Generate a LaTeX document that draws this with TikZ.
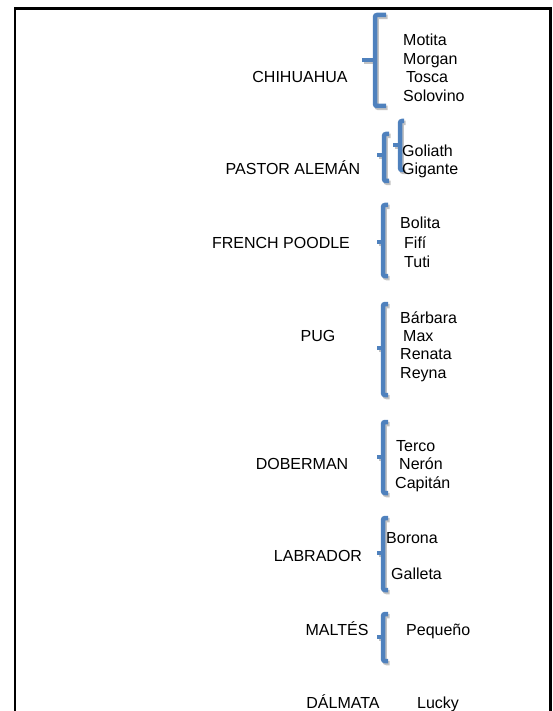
\documentclass[tikz,border=0pt]{standalone}
\usepackage{fontspec}
\setmainfont{Liberation Sans}
\definecolor{bracecol}{RGB}{79,129,189}
\definecolor{shadowcol}{RGB}{195,195,195}
\tikzset{
  txt/.style={inner sep=0pt, font=\fontsize{16}{19}\selectfont},
  breed/.style={txt, anchor=base},
  pet/.style={txt, anchor=base west},
  braceline/.style={line width=4.5pt, color=bracecol, rounded corners=2pt},
  braceshadow/.style={line width=4.5pt, color=shadowcol, rounded corners=2pt},
  frameline/.style={line width=2.5pt, black},
}
% #1 x, #2 top, #3 mid, #4 bottom, #5 tip x, #6 end x
\newcommand{\wordbrace}[6]{%
  \draw[braceshadow, shift={(1.5,2)}] (#6,#2) -- (#1,#2) -- (#1,#4) -- (#6,#4);
  \draw[braceshadow, shift={(1.5,2)}] (#5,#3) -- (#1,#3);
  \draw[braceline] (#6,#2) -- (#1,#2) -- (#1,#4) -- (#6,#4);
  \draw[braceline] (#5,#3) -- (#1,#3);
}
\begin{document}
\begin{tikzpicture}[x=1pt,y=-1pt]
\useasboundingbox (0,0) rectangle (553,711);
\begin{scope}
\clip (0,0) rectangle (553,711);
\draw[frameline] (15,712) -- (15,8.5) -- (550.5,8.5) -- (550.5,712);
\end{scope}

% braces
\wordbrace{375}{15}{60}{106}{362}{386}
\wordbrace{384}{134}{155}{181}{377}{389}
\wordbrace{400}{121}{145}{170}{393}{404}
\wordbrace{383}{205}{242}{276}{377}{388}
\wordbrace{383}{304}{348}{395}{377}{388}
\wordbrace{383}{422}{457}{493}{377}{388}
\wordbrace{383}{518}{553}{590}{377}{388}
\wordbrace{383}{614}{637}{661}{377}{388}

% breeds
\node[breed] (chi) at (300,83) {CHIHUAHUA};
\node[breed] (pas) at (293,175) {PASTOR ALEMÁN};
\node[breed] (fre) at (281,248) {FRENCH POODLE};
\node[breed] (pug) at (318,341) {PUG};
\node[breed] (dob) at (302,469) {DOBERMAN};
\node[breed] (lab) at (318,561) {LABRADOR};
\node[breed] (mal) at (337,635) {MALTÉS};
\node[breed] (dal) at (343,708) {DÁLMATA};

% pets
\node[pet] (p1) at (403,46) {Motita};
\node[pet] (p2) at (403,65) {Morgan};
\node[pet] (p3) at (406,83) {Tosca};
\node[pet] (p4) at (403,102) {Solovino};
\node[pet] (p5) at (402,157) {Goliath};
\node[pet] (p6) at (402,175) {Gigante};
\node[pet] (p7) at (400,229) {Bolita};
\node[pet] (p8) at (404,248) {Fifí};
\node[pet] (p9) at (404,267) {Tuti};
\node[pet] (p10) at (400,323) {Bárbara};
\node[pet] (p11) at (403,341) {Max};
\node[pet] (p12) at (400,359) {Renata};
\node[pet] (p13) at (400,378) {Reyna};
\node[pet] (p14) at (396,451) {Terco};
\node[pet] (p15) at (399,469) {Nerón};
\node[pet] (p16) at (395,488) {Capitán};
\node[pet] (p17) at (386,543) {Borona};
\node[pet] (p18) at (391,579) {Galleta};
\node[pet] (p19) at (406,635) {Pequeño};
\node[pet] (p20) at (417,708) {Lucky};
\end{tikzpicture}
\end{document}
